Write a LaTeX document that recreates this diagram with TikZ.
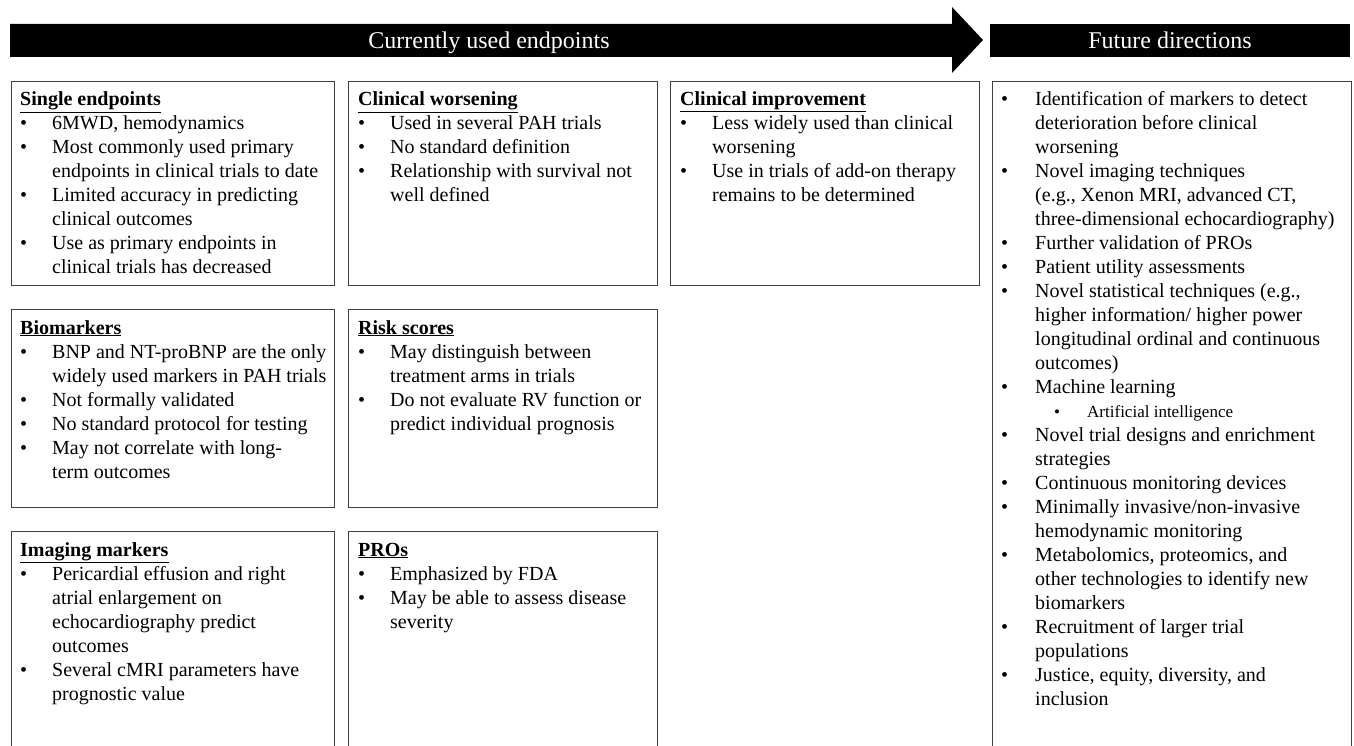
\documentclass[tikz,border=0pt]{standalone}
\usepackage{fontspec}
\setmainfont{Liberation Serif}
\newlength\bind
\newcommand\bitem[1]{\par\hangindent=\bind\hangafter=1\noindent\makebox[\bind][l]{\textbullet}#1}
\newcommand\bsubitem[1]{\par\noindent\hspace*{53pt}{\fontsize{17}{24}\selectfont\makebox[33pt][l]{\textbullet}#1}}
\newcommand\btitle[1]{\noindent\textbf{\underline{#1}}}
\newcommand\boxtext[2][32pt]{\parbox[t]{420pt}{\setlength\bind{#1}\fontsize{20}{24}\selectfont\rightskip=0pt plus 1fil\relax\setlength\parindent{0pt}\setlength\parskip{0pt}#2\par}}
\tikzset{
  panel/.style={draw=black!75, line width=1.3pt, anchor=north west, inner sep=0pt},
  btext/.style={anchor=base west, inner sep=0pt},
  band/.style={fill=black, inner sep=0pt, anchor=north west},
  hdr/.style={text=white, font=\fontsize{24}{28}\selectfont, anchor=base, inner sep=0pt}
}
\begin{document}
\begin{tikzpicture}[x=1pt,y=-1pt]
\useasboundingbox (0,0) rectangle (1354,746);
\clip (0,0) rectangle (1354,746);
\fill[white] (0,0) rectangle (1354,746);
% header arrow
\fill[black] (10,24) -- (952,24) -- (952,7) -- (983,40) -- (952,73) -- (952,57) -- (10,57) -- cycle;
\node[hdr] (hcur) at (489,49) {Currently used endpoints};
\node[band, minimum width=360pt, minimum height=33pt] (fband) at (990,24) {};
\node[hdr] (hfut) at (1170,49) {Future directions};
% boxes
\node[panel, minimum width=323pt, minimum height=204pt] (b1) at (11,81) {};
\node[panel, minimum width=309pt, minimum height=204pt] (b2) at (348,81) {};
\node[panel, minimum width=309pt, minimum height=204pt] (b3) at (670,81) {};
\node[panel, minimum width=359pt, minimum height=700pt] (b4) at (992,81) {};
\node[panel, minimum width=323pt, minimum height=198pt] (b5) at (11,309) {};
\node[panel, minimum width=309pt, minimum height=198pt] (b6) at (348,309) {};
\node[panel, minimum width=323pt, minimum height=240pt] (b7) at (11,531) {};
\node[panel, minimum width=309pt, minimum height=240pt] (b8) at (348,531) {};
% texts
\node[btext] (t1) at ([shift={(9,25)}]b1.north west) {\boxtext{%
\btitle{Single endpoints}
\bitem{6MWD, hemodynamics}
\bitem{Most commonly used primary\\endpoints in clinical trials to date}
\bitem{Limited accuracy in predicting\\clinical outcomes}
\bitem{Use as primary endpoints in\\clinical trials has decreased}}};
\node[btext] (t2) at ([shift={(10,25)}]b2.north west) {\boxtext{%
\btitle{Clinical worsening}
\bitem{Used in several PAH trials}
\bitem{No standard definition}
\bitem{Relationship with survival not\\well defined}}};
\node[btext] (t3) at ([shift={(10,25)}]b3.north west) {\boxtext{%
\btitle{Clinical improvement}
\bitem{Less widely used than clinical\\worsening}
\bitem{Use in trials of add-on therapy\\remains to be determined}}};
\node[btext] (t5) at ([shift={(9,25)}]b5.north west) {\boxtext{%
\btitle{Biomarkers}
\bitem{BNP and NT-proBNP are the only\\widely used markers in PAH trials}
\bitem{Not formally validated}
\bitem{No standard protocol for testing}
\bitem{May not correlate with long-\\term outcomes}}};
\node[btext] (t6) at ([shift={(10,25)}]b6.north west) {\boxtext{%
\btitle{Risk scores}
\bitem{May distinguish between\\treatment arms in trials}
\bitem{Do not evaluate RV function or\\predict individual prognosis}}};
\node[btext] (t7) at ([shift={(9,25)}]b7.north west) {\boxtext{%
\btitle{Imaging markers}
\bitem{Pericardial effusion and right\\atrial enlargement on\\echocardiography predict\\outcomes}
\bitem{Several cMRI parameters have\\prognostic value}}};
\node[btext] (t8) at ([shift={(10,25)}]b8.north west) {\boxtext{%
\btitle{PROs}
\bitem{Emphasized by FDA}
\bitem{May be able to assess disease\\severity}}};
\node[btext] (t4) at ([shift={(9,25)}]b4.north west) {\boxtext[34pt]{%
\bitem{Identification of markers to detect\\deterioration before clinical\\worsening}
\bitem{Novel imaging techniques\\(e.g., Xenon MRI, advanced CT,\\three-dimensional echocardiography)}
\bitem{Further validation of PROs}
\bitem{Patient utility assessments}
\bitem{Novel statistical techniques (e.g.,\\higher information/ higher power\\longitudinal ordinal and continuous\\outcomes)}
\bitem{Machine learning}
\bsubitem{Artificial intelligence}
\bitem{Novel trial designs and enrichment\\strategies}
\bitem{Continuous monitoring devices}
\bitem{Minimally invasive/non-invasive\\hemodynamic monitoring}
\bitem{Metabolomics, proteomics, and\\other technologies to identify new\\biomarkers}
\bitem{Recruitment of larger trial\\populations}
\bitem{Justice, equity, diversity, and\\inclusion}}};
\end{tikzpicture}
\end{document}
